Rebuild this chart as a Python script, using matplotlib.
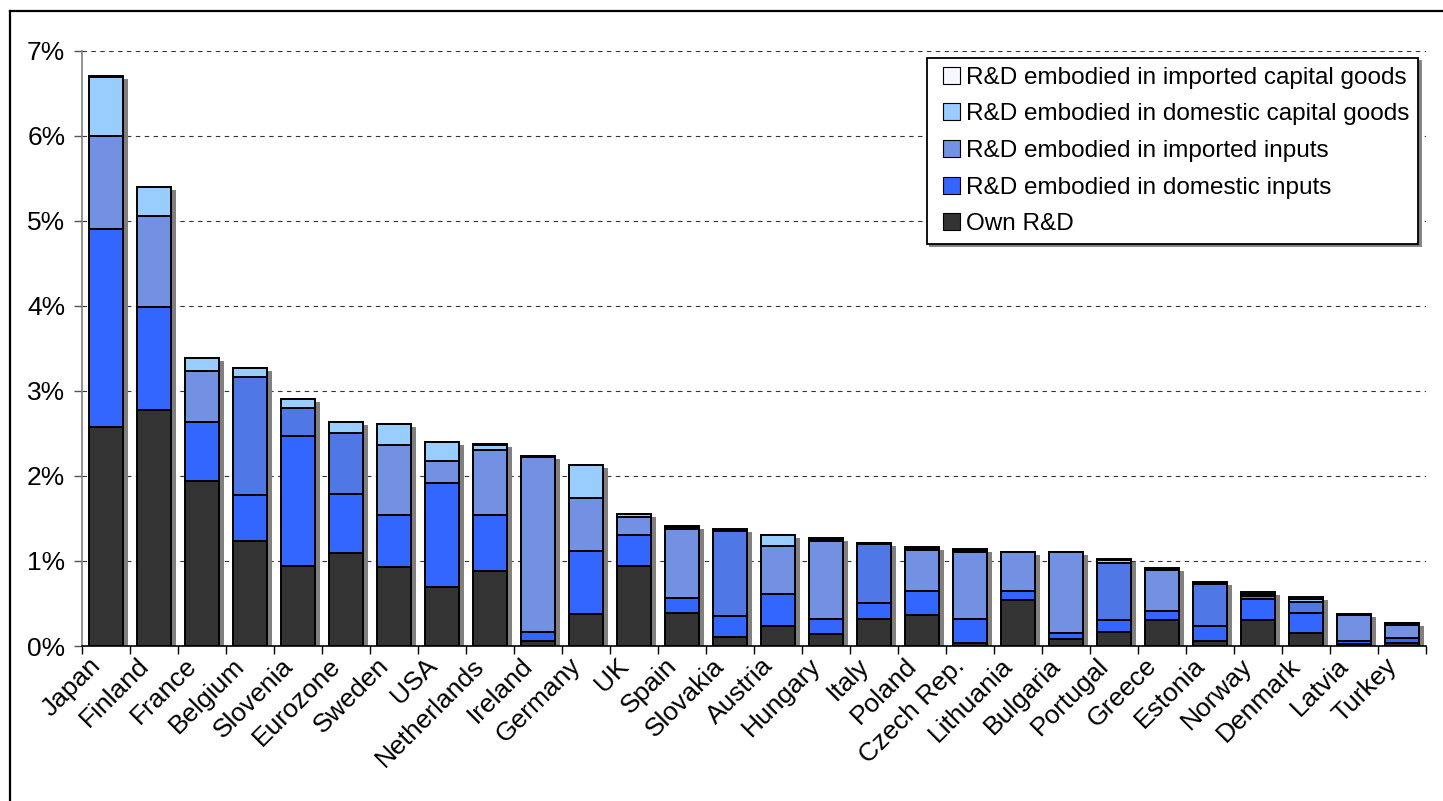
import numpy as np
import matplotlib
matplotlib.use("Agg")
import matplotlib.pyplot as plt
from matplotlib import transforms
from matplotlib.patches import Patch, Rectangle
from matplotlib.legend_handler import HandlerPatch
from matplotlib.lines import Line2D

# R&D intensity by source, % of output
countries = ["Japan", "Finland", "France", "Belgium", "Slovenia", "Eurozone", "Sweden",
             "USA", "Netherlands", "Ireland", "Germany", "UK", "Spain", "Slovakia",
             "Austria", "Hungary", "Italy", "Poland", "Czech Rep.", "Lithuania",
             "Bulgaria", "Portugal", "Greece", "Estonia", "Norway", "Denmark",
             "Latvia", "Turkey"]

own_rd      = [2.57, 2.77, 1.94, 1.23, 0.94, 1.09, 0.93, 0.69, 0.88, 0.06, 0.38, 0.94, 0.39, 0.10,
               0.23, 0.14, 0.32, 0.36, 0.04, 0.54, 0.08, 0.17, 0.30, 0.06, 0.31, 0.15, 0.02, 0.04]
dom_inputs  = [2.33, 1.21, 0.69, 0.54, 1.53, 0.70, 0.61, 1.23, 0.66, 0.10, 0.74, 0.36, 0.18, 0.25,
               0.38, 0.18, 0.19, 0.29, 0.28, 0.11, 0.07, 0.14, 0.11, 0.18, 0.24, 0.24, 0.04, 0.05]
imp_inputs  = [1.09, 1.08, 0.60, 1.39, 0.33, 0.71, 0.82, 0.25, 0.76, 2.06, 0.62, 0.22, 0.80, 1.00,
               0.56, 0.92, 0.69, 0.48, 0.78, 0.45, 0.95, 0.66, 0.48, 0.49, 0.04, 0.13, 0.30, 0.16]
dom_capital = [0.70, 0.33, 0.15, 0.11, 0.10, 0.13, 0.25, 0.23, 0.06, 0.00, 0.39, 0.03, 0.03, 0.01,
               0.13, 0.02, 0.01, 0.02, 0.03, 0.00, 0.00, 0.04, 0.02, 0.01, 0.02, 0.03, 0.02, 0.02]
imp_capital = [0.01, 0.01, 0.00, 0.00, 0.00, 0.00, 0.00, 0.00, 0.01, 0.01, 0.00, 0.00, 0.01, 0.01,
               0.00, 0.01, 0.00, 0.01, 0.01, 0.00, 0.00, 0.01, 0.01, 0.01, 0.02, 0.03, 0.00, 0.00]

series_labels = ["Own R&D",
                 "R&D embodied in domestic inputs",
                 "R&D embodied in imported inputs",
                 "R&D embodied in domestic capital goods",
                 "R&D embodied in imported capital goods"]
y_ticks = [0, 1, 2, 3, 4, 5, 6, 7]
y_tick_labels = ["0%", "1%", "2%", "3%", "4%", "5%", "6%", "7%"]

# countries whose imported-inputs segment is rendered in the deeper blue shade
deep_shade = {"Belgium", "Slovenia", "Eurozone", "Slovakia", "Italy", "Portugal",
              "Estonia", "Norway", "Denmark"}

colors = ["#333333", "#3366FF", "#7391E3", "#99CCFF", "#F5F9FF"]
imp_shade_deep = "#4F77E6"

plt.rcParams["font.family"] = ["Liberation Sans", "DejaVu Sans"]

W, H, DPI = 1443, 801, 100
fig = plt.figure(figsize=(W / DPI, H / DPI), dpi=DPI)
fig.patch.set_facecolor("white")

ax_left, ax_right = 82 / W, 1426 / W
ax_bottom, ax_top = (H - 646) / H, (H - 50.5) / H
ax = fig.add_axes([ax_left, ax_bottom, ax_right - ax_left, ax_top - ax_bottom])

x = np.arange(len(countries))
width = 0.69
stack = [own_rd, dom_inputs, imp_inputs, dom_capital, imp_capital]
totals = np.sum(np.array(stack), axis=0)

# drop shadow behind each column
shadow_tr = ax.transData + transforms.ScaledTranslation(5 / DPI, -3 / DPI, fig.dpi_scale_trans)
ax.bar(x, totals, width, color="#808080", edgecolor="none", transform=shadow_tr, zorder=1)

bottom = np.zeros(len(countries))
for i, (vals, col) in enumerate(zip(stack, colors)):
    vals = np.array(vals)
    if i == 2:
        seg_colors = [imp_shade_deep if c in deep_shade else col for c in countries]
    else:
        seg_colors = col
    ax.bar(x, vals, width, bottom=bottom, color=seg_colors, edgecolor="black",
           linewidth=1.4, zorder=2)
    bottom += vals

ax.set_xlim(-0.5, len(countries) - 0.5)
ax.set_ylim(0, 7)

ax.set_yticks(y_ticks)
ax.set_yticklabels(y_tick_labels, fontsize=19)
ax.tick_params(axis="y", length=6, width=1, color="#555555", pad=6)

# category tick marks sit on the boundaries; names are placed under each column
ax.set_xticks(np.arange(len(countries) + 1) - 0.5)
ax.set_xticklabels([])
ax.tick_params(axis="x", length=6, width=1, color="black")
label_tr = ax.get_xaxis_transform() + transforms.ScaledTranslation(
    -9 / DPI, -16 / DPI, fig.dpi_scale_trans)
for xi, name in zip(x, countries):
    ax.text(xi, 0, name, transform=label_tr, rotation=45, ha="right", va="center",
            rotation_mode="anchor", fontsize=19, clip_on=False)

ax.yaxis.grid(True, linestyle=(0, (4, 4)), linewidth=0.8, color="#333333", zorder=0)
ax.set_axisbelow(True)

for s in ["top", "right"]:
    ax.spines[s].set_visible(False)
ax.spines["left"].set_color("#808080")
ax.spines["left"].set_linewidth(1.2)
ax.spines["bottom"].set_color("black")
ax.spines["bottom"].set_linewidth(1.2)


def square_key(legend, orig_handle, xdescent, ydescent, width, height, fontsize):
    side = height
    return Rectangle((width - side - xdescent, -ydescent), side, side)


handles = []
for col, lab in zip(colors[::-1], series_labels[::-1]):
    handles.append(Patch(facecolor=col, edgecolor="black", linewidth=0.8, label=lab))
leg = ax.legend(handles=handles, loc="upper right", bbox_to_anchor=(0.994, 0.987),
                fontsize=17.5, frameon=True, fancybox=False, borderaxespad=0,
                shadow={"color": "#808080", "alpha": 1},
                borderpad=0.35, labelspacing=0.6, handlelength=1.0, handleheight=0.7,
                handletextpad=0.25,
                handler_map={Patch: HandlerPatch(patch_func=square_key)})
leg.get_frame().set_edgecolor("black")
leg.get_frame().set_linewidth(1.3)
leg.set_zorder(5)

# outer frame
fx = 10 / W
fy = (H - 11) / H
fig.add_artist(Line2D([fx, fx], [0, fy], transform=fig.transFigure, color="black", linewidth=1.6))
fig.add_artist(Line2D([fx, 1], [fy, fy], transform=fig.transFigure, color="black", linewidth=1.6))

fig.savefig("out.png", dpi=DPI)
